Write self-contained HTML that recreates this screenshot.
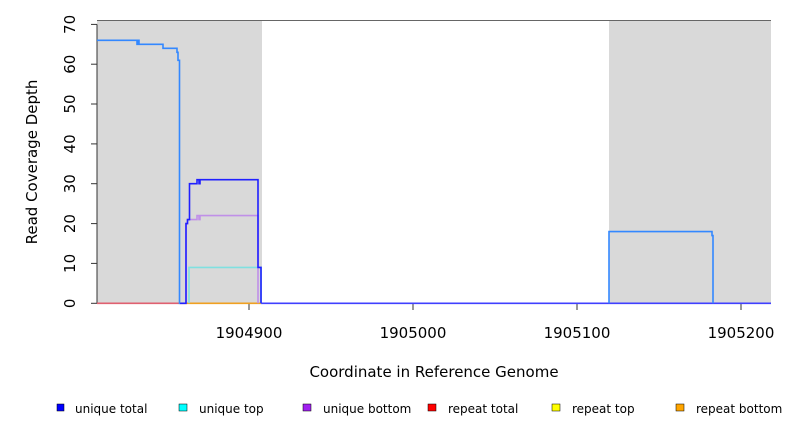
<!DOCTYPE html><html><head><style>body{margin:0;background:#fff}svg{display:block;font-family:"DejaVu Sans","Liberation Sans",sans-serif}</style></head><body>
<svg width="792" height="432" viewBox="0 0 792 432">
<rect x="97" y="20.5" width="165" height="283" fill="#d9d9d9"/>
<rect x="609" y="20.5" width="162" height="283" fill="#d9d9d9"/>
<line x1="97" y1="20.5" x2="771" y2="20.5" stroke="#666" stroke-width="1"/>
<line x1="97" y1="24.4" x2="97" y2="303.3" stroke="#333" stroke-width="1"/>
<g stroke="#333">
<line x1="91" y1="303.3" x2="97" y2="303.3"/><line x1="91" y1="263.4" x2="97" y2="263.4"/><line x1="91" y1="223.6" x2="97" y2="223.6"/><line x1="91" y1="183.7" x2="97" y2="183.7"/><line x1="91" y1="143.9" x2="97" y2="143.9"/><line x1="91" y1="104" x2="97" y2="104"/><line x1="91" y1="64.2" x2="97" y2="64.2"/><line x1="91" y1="24.4" x2="97" y2="24.4"/>
<line x1="249" y1="303" x2="249" y2="310"/><line x1="413" y1="303" x2="413" y2="310"/><line x1="577" y1="303" x2="577" y2="310"/><line x1="741" y1="303" x2="741" y2="310"/>
</g>
<g font-size="15" fill="#000" text-anchor="middle">
<text transform="translate(75,303.3) rotate(-90)">0</text>
<text transform="translate(75,263.4) rotate(-90)">10</text>
<text transform="translate(75,223.6) rotate(-90)">20</text>
<text transform="translate(75,183.7) rotate(-90)">30</text>
<text transform="translate(75,143.9) rotate(-90)">40</text>
<text transform="translate(75,104) rotate(-90)">50</text>
<text transform="translate(75,64.2) rotate(-90)">60</text>
<text transform="translate(75,24.4) rotate(-90)">70</text>
<text x="249" y="338">1904900</text><text x="413" y="338">1905000</text><text x="577" y="338">1905100</text><text x="741" y="338">1905200</text>
<text x="434" y="377">Coordinate in Reference Genome</text>
<text transform="translate(37,162) rotate(-90)">Read Coverage Depth</text>
</g>
<g fill="none" stroke-width="1.6">
<path d="M97,303.3H186" stroke="#e06070"/>
<path d="M186,303.3H261" stroke="#f0a020"/>
<path d="M261,303.3H771" stroke="#4040ff"/>
<path d="M189,303.3V267.4H261V303.3" stroke="#80e0e0"/>
<path d="M186,303.3V223.6H187.5V219.6H197V215.6H199V219.6H200V215.6H258V303.3" stroke="#c090e8"/>
<path d="M180,303.3H186V223.6H187.5V219.6H189.5V183.7H197V179.7H199V183.7H200V179.7H258V267.4H261V303.3" stroke="#2020ff"/>
<path d="M97,40.3H137V44.3H138V40.3H139V44.3H163V48.3H177V52.3H178V60.3H179.5V303.3H180" stroke="#3388ff"/>
<path d="M609,303.3V231.6H712V235.6H713V303.3" stroke="#3388ff"/>
</g>
<g font-size="12" fill="#000">
<rect x="57" y="404" width="7" height="7" fill="#0000ff" stroke="#000" stroke-width=".5"/><text x="75" y="413">unique total</text>
<rect x="179" y="404" width="8" height="7" fill="#00ffff" stroke="#000" stroke-width=".5"/><text x="199" y="413">unique top</text>
<rect x="303" y="404" width="8" height="7" fill="#a020f0" stroke="#000" stroke-width=".5"/><text x="323" y="413">unique bottom</text>
<rect x="428" y="404" width="8" height="7" fill="#ff0000" stroke="#000" stroke-width=".5"/><text x="448" y="413">repeat total</text>
<rect x="552" y="404" width="8" height="7" fill="#ffff00" stroke="#000" stroke-width=".5"/><text x="572" y="413">repeat top</text>
<rect x="676" y="404" width="8" height="7" fill="#ffa500" stroke="#000" stroke-width=".5"/><text x="696" y="413">repeat bottom</text>
</g>
</svg></body></html>
